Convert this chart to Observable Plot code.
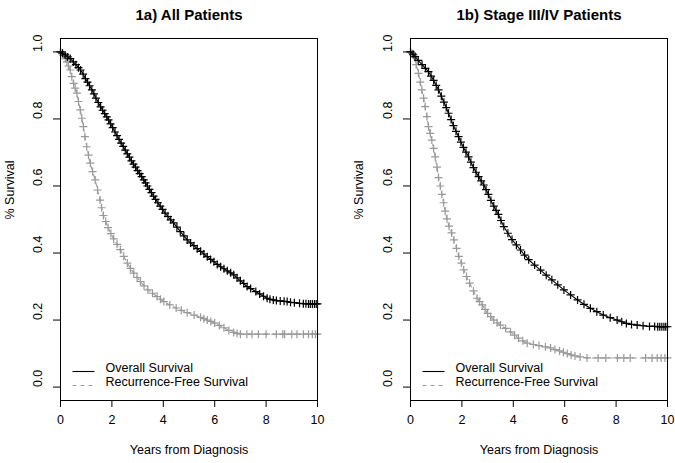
<!DOCTYPE html>
<html><head><meta charset="utf-8">
<script src="https://cdn.jsdelivr.net/npm/d3@7"></script>
<script src="https://cdn.jsdelivr.net/npm/@observablehq/plot@0.6"></script>
<style>
html,body{margin:0;padding:0;background:#fff;}
#wrap{display:flex;width:675px;height:463px;}
svg{display:block}
</style></head><body><div id="wrap"></div>
<script>
const panelTitles = ["1a) All Patients", "1b) Stage III/IV Patients"];
const xTicks = [0, 2, 4, 6, 8, 10];
const xTickLabels = ["0", "2", "4", "6", "8", "10"];
const yTicks = [0, 0.2, 0.4, 0.6, 0.8, 1.0];
const yTickLabels = ["0.0", "0.2", "0.4", "0.6", "0.8", "1.0"];
const legendLabels = ["Overall Survival", "Recurrence-Free Survival"];
const xLabel = "Years from Diagnosis";
const yLabel = "% Survival";

// Panel 1a: overall survival (time in years, survival)
const osAllT = [0,0.08,0.18,0.28,0.38,0.5,0.6,0.7,0.78,0.88,0.97,1.05,1.13,1.22,1.3,1.38,1.47,1.56,1.64,1.72,1.8,1.87,1.95,2.03,2.12,2.2,2.28,2.36,2.44,2.52,2.6,2.68,2.76,2.84,2.92,3,3.08,3.16,3.24,3.31,3.38,3.46,3.54,3.62,3.7,3.79,3.88,3.97,4.07,4.18,4.29,4.4,4.53,4.66,4.8,4.93,5.06,5.19,5.32,5.45,5.58,5.71,5.84,5.97,6.1,6.23,6.36,6.49,6.62,6.74,6.87,7,7.13,7.26,7.4,7.6,7.75,7.9,8.04,8.15,8.28,8.4,8.55,8.7,8.82,8.95,9.1,9.3,9.45,9.55,9.65,9.72,9.8,9.88,9.95,10];
const osAllS = [1,0.996,0.991,0.985,0.98,0.97,0.962,0.953,0.946,0.934,0.92,0.91,0.899,0.887,0.875,0.862,0.849,0.836,0.826,0.816,0.806,0.797,0.785,0.774,0.761,0.75,0.739,0.728,0.718,0.707,0.696,0.686,0.675,0.665,0.656,0.646,0.637,0.628,0.618,0.609,0.6,0.59,0.58,0.57,0.56,0.55,0.54,0.53,0.519,0.509,0.499,0.49,0.477,0.464,0.451,0.439,0.43,0.422,0.413,0.405,0.397,0.389,0.381,0.374,0.366,0.359,0.353,0.347,0.341,0.335,0.326,0.317,0.309,0.3,0.294,0.285,0.278,0.271,0.265,0.262,0.26,0.258,0.257,0.256,0.255,0.253,0.252,0.25,0.249,0.249,0.248,0.248,0.248,0.248,0.248,0.248];
// Panel 1a: recurrence-free survival
const rfsAllT = [0,0.06,0.12,0.19,0.25,0.31,0.38,0.44,0.51,0.57,0.64,0.7,0.77,0.83,0.89,0.95,1.02,1.09,1.16,1.25,1.35,1.44,1.54,1.6,1.67,1.76,1.85,1.96,2.07,2.2,2.33,2.46,2.6,2.72,2.85,2.98,3.11,3.25,3.4,3.58,3.76,3.89,4.02,4.25,4.5,4.7,4.93,5.2,5.45,5.58,5.71,5.85,6,6.18,6.36,6.55,6.74,6.87,7,7.25,7.45,7.7,8,8.4,8.65,8.72,9,9.2,9.45,9.65,9.8,9.92,10];
const rfsAllS = [1,0.995,0.99,0.98,0.97,0.958,0.946,0.926,0.906,0.892,0.877,0.852,0.827,0.802,0.777,0.747,0.717,0.692,0.668,0.643,0.618,0.588,0.558,0.535,0.512,0.494,0.476,0.458,0.442,0.426,0.41,0.39,0.37,0.354,0.34,0.327,0.315,0.302,0.29,0.28,0.27,0.262,0.255,0.245,0.236,0.229,0.222,0.215,0.208,0.204,0.2,0.196,0.191,0.184,0.177,0.169,0.163,0.16,0.158,0.158,0.158,0.158,0.158,0.158,0.158,0.158,0.158,0.158,0.158,0.158,0.158,0.158,0.158];

// Panel 1b: overall survival
const osStageT = [0,0.1,0.18,0.3,0.45,0.58,0.7,0.8,0.9,1,1.09,1.2,1.3,1.39,1.48,1.58,1.67,1.77,1.87,1.96,2.06,2.16,2.26,2.35,2.45,2.55,2.65,2.75,2.85,2.94,3.03,3.13,3.24,3.33,3.42,3.52,3.63,3.79,3.95,4.12,4.28,4.44,4.6,4.83,5.06,5.28,5.5,5.73,5.97,6.23,6.5,6.75,7,7.25,7.5,7.77,8.04,8.22,8.4,8.6,8.82,9.05,9.3,9.5,9.62,9.7,9.78,9.86,9.93,10];
const osStageS = [1,0.993,0.986,0.975,0.962,0.951,0.941,0.928,0.915,0.9,0.887,0.868,0.85,0.834,0.817,0.798,0.78,0.763,0.747,0.731,0.715,0.701,0.687,0.671,0.655,0.641,0.628,0.615,0.603,0.589,0.575,0.557,0.54,0.527,0.515,0.497,0.479,0.459,0.44,0.424,0.409,0.394,0.38,0.364,0.349,0.334,0.32,0.305,0.29,0.275,0.26,0.247,0.235,0.225,0.215,0.207,0.2,0.195,0.19,0.187,0.185,0.183,0.181,0.181,0.18,0.18,0.18,0.18,0.18,0.18];
// Panel 1b: recurrence-free survival
const rfsStageT = [0,0.06,0.12,0.22,0.31,0.38,0.44,0.51,0.57,0.64,0.7,0.77,0.83,0.9,0.96,1.03,1.09,1.16,1.22,1.29,1.35,1.42,1.5,1.6,1.69,1.79,1.88,1.98,2.07,2.18,2.3,2.45,2.59,2.69,2.79,2.9,3,3.12,3.24,3.37,3.5,3.7,3.89,4.05,4.2,4.37,4.54,4.78,5,5.25,5.45,5.62,5.8,5.95,6.1,6.25,6.4,6.6,6.87,7.3,7.6,8.05,8.3,8.55,9.15,9.4,9.6,9.75,9.9,10];
const rfsStageS = [1,0.995,0.99,0.962,0.936,0.91,0.887,0.862,0.837,0.807,0.777,0.757,0.737,0.712,0.687,0.656,0.625,0.6,0.575,0.55,0.525,0.502,0.48,0.46,0.439,0.414,0.39,0.37,0.35,0.33,0.31,0.287,0.265,0.255,0.245,0.232,0.22,0.21,0.2,0.192,0.185,0.175,0.165,0.155,0.146,0.138,0.131,0.127,0.124,0.12,0.117,0.112,0.108,0.104,0.1,0.096,0.093,0.09,0.087,0.087,0.087,0.087,0.087,0.087,0.087,0.087,0.087,0.087,0.087,0.087];

const GRAY = "#999999";
const FONT = "'Liberation Sans', Arial, Helvetica, sans-serif";
const plusSym = {draw(ctx) { const r = 4; ctx.moveTo(-r, 0); ctx.lineTo(r, 0); ctx.moveTo(0, -r); ctx.lineTo(0, r); }};
const legendSym = {draw(ctx) { ctx.moveTo(-11, 0); ctx.lineTo(11, 0); }};

function toRows(ts, ss) { return ts.map((t, i) => ({t, s: ss[i]})); }

function panel(title, os, rfs, width, mL, mR, yLabelDx) {
  const yTickRows = yTicks.map((v, i) => ({v, label: yTickLabels[i]}));
  const xTickRows = xTicks.map((v, i) => ({v, label: xTickLabels[i]}));
  return Plot.plot({
    width, height: 463,
    marginLeft: mL, marginRight: mR, marginTop: 38, marginBottom: 63,
    style: {fontFamily: FONT, fontSize: "12.5px", background: "#fff", color: "#000"},
    x: {domain: [0, 10]},
    y: {domain: [-0.04, 1.04]},
    marks: [
      Plot.line(rfs, {x: "t", y: "s", stroke: GRAY, strokeWidth: 1.1, strokeDasharray: "4,4"}),
      Plot.dot(rfs, {x: "t", y: "s", symbol: plusSym, stroke: GRAY, strokeWidth: 1.2, r: 3}),
      Plot.line(os, {x: "t", y: "s", stroke: "#000", strokeWidth: 1.1}),
      Plot.dot(os, {x: "t", y: "s", symbol: plusSym, stroke: "#000", strokeWidth: 1.2, r: 3}),
      Plot.frame({stroke: "#000", strokeWidth: 1}),
      Plot.axisX(xTicks, {tickSize: 7, tickFormat: () => "", label: null}),
      Plot.axisY(yTicks, {tickSize: 7, tickFormat: () => "", label: null}),
      Plot.text(xTickRows, {x: "v", text: "label", frameAnchor: "bottom", dy: 23, fontSize: 12.5}),
      Plot.text(yTickRows, {y: "v", text: "label", frameAnchor: "left", dx: -23, rotate: -90, fontSize: 12.5}),
      Plot.text([title], {frameAnchor: "top", dy: -29, fontWeight: "bold", fontSize: 15}),
      Plot.text([xLabel], {frameAnchor: "bottom", dy: 53, fontSize: 12.5}),
      Plot.text([yLabel], {frameAnchor: "left", dx: yLabelDx, rotate: -90, fontSize: 12.5}),
      Plot.dot([0], {frameAnchor: "bottom-left", dx: 23, dy: -29, symbol: legendSym, stroke: "#000", strokeWidth: 1.1, r: 3}),
      Plot.dot([0], {frameAnchor: "bottom-left", dx: 23, dy: -15, symbol: legendSym, stroke: GRAY, strokeWidth: 1.1, strokeDasharray: "4,4", r: 3}),
      Plot.text([legendLabels[0]], {frameAnchor: "bottom-left", dx: 45, dy: -29, textAnchor: "start", fontSize: 12.5}),
      Plot.text([legendLabels[1]], {frameAnchor: "bottom-left", dx: 45, dy: -15, textAnchor: "start", fontSize: 12.5})
    ]
  });
}

const wrap = document.getElementById("wrap");
wrap.appendChild(panel(panelTitles[0], toRows(osAllT, osAllS), toRows(rfsAllT, rfsAllS), 337, 60, 20, -51));
wrap.appendChild(panel(panelTitles[1], toRows(osStageT, osStageS), toRows(rfsStageT, rfsStageS), 338, 73, 8, -52));
</script></body></html>
